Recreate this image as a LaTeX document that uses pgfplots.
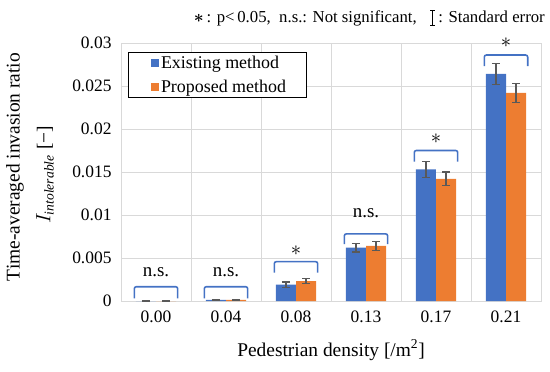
\documentclass[border=0pt]{standalone}
\usepackage{pgfplots}
\pgfplotsset{compat=1.18}
\usepackage{amsmath}
\usepackage{fontspec}
\setmainfont{Liberation Serif}
\definecolor{cblue}{HTML}{4472C4}
\definecolor{corange}{HTML}{ED7D31}
\definecolor{cgrid}{HTML}{D9D9D9}
\definecolor{cerr}{HTML}{595959}
\begin{document}
\begin{tikzpicture}
\useasboundingbox (0,0) rectangle (550bp,372bp);
\begin{axis}[
  at={(121bp,71bp)}, anchor=south west,
  scale only axis, width=420bp, height=258bp,
  xmin=-0.5, xmax=5.5, ymin=0, ymax=0.03,
  bar width=20bp,
  xtick={0,1,2,3,4,5},
  xticklabels={0.00,0.04,0.08,0.13,0.17,0.21},
  minor xtick={-0.5,0.5,1.5,2.5,3.5,4.5,5.5},
  ytick={0,0.005,0.01,0.015,0.02,0.025,0.03},
  yticklabels={0,0.005,0.01,0.015,0.02,0.025,0.03},
  scaled y ticks=false,
  xminorgrids=true, ymajorgrids=true, xmajorgrids=false,
  grid style={cgrid, line width=0.8pt},
  minor grid style={cgrid, line width=0.8pt},
  axis line style={cgrid, line width=0.8pt},
  major tick length=0pt, minor tick length=0pt,
  tick style={draw=none},
  ticklabel style={font=\fontsize{17.5}{20}\selectfont},
  xticklabel style={yshift=-6bp},
  yticklabel style={xshift=-6bp},
  legend style={at={(0.0167,0.965)}, anchor=north west,
    draw=black, line width=0.8pt, font=\fontsize{18}{20}\selectfont,
    row sep=6bp, inner xsep=18bp, inner ysep=1.5bp, cells={anchor=west},
    nodes={inner ysep=2bp}},
  legend image code/.code={\path (-5bp,0);\fill[#1] (0bp,-3.8bp) rectangle (7.6bp,3.8bp);},
  clip=false,
]
\addplot[ybar, bar shift=0pt, fill=cblue, draw=none,
  error bars/.cd, y dir=both, y explicit,
  error bar style={cerr, line width=1.3pt},
  error mark options={cerr, rotate=90, mark size=4bp, line width=1.3pt}] coordinates {
  (-0.1429,0) +- (0,0)
  (0.8571,0.00012) +- (0,0.00004)
  (1.8571,0.0019) +- (0,0.0003)
  (2.8571,0.0062) +- (0,0.0005)
  (3.8571,0.0153) +- (0,0.0009)
  (4.8571,0.0264) +- (0,0.0012)
};
\addlegendentry{Existing method}
\addplot[ybar, bar shift=0pt, fill=corange, draw=none,
  error bars/.cd, y dir=both, y explicit,
  error bar style={cerr, line width=1.3pt},
  error mark options={cerr, rotate=90, mark size=4bp, line width=1.3pt}] coordinates {
  (0.1429,0) +- (0,0)
  (1.1429,0.00013) +- (0,0.00005)
  (2.1429,0.0023) +- (0,0.0003)
  (3.1429,0.0064) +- (0,0.0005)
  (4.1429,0.0142) +- (0,0.0008)
  (5.1429,0.0242) +- (0,0.0011)
};
\addlegendentry{Proposed method}
% brackets
\addplot[cblue, sharp plot, no markers, forget plot, line width=1.6pt, rounded corners=2bp] coordinates {(-0.31,0.0003) (-0.31,0.00166) (0.31,0.00166) (0.31,0.0003)};
\addplot[cblue, sharp plot, no markers, forget plot, line width=1.6pt, rounded corners=2bp] coordinates {(0.69,0.0003) (0.69,0.00166) (1.31,0.00166) (1.31,0.0003)};
\addplot[cblue, sharp plot, no markers, forget plot, line width=1.6pt, rounded corners=2bp] coordinates {(1.69,0.0033) (1.69,0.00457) (2.31,0.00457) (2.31,0.0033)};
\addplot[cblue, sharp plot, no markers, forget plot, line width=1.6pt, rounded corners=2bp] coordinates {(2.69,0.0066) (2.69,0.0078) (3.31,0.0078) (3.31,0.0066)};
\addplot[cblue, sharp plot, no markers, forget plot, line width=1.6pt, rounded corners=2bp] coordinates {(3.69,0.0162) (3.69,0.0175) (4.31,0.0175) (4.31,0.0162)};
\addplot[cblue, sharp plot, no markers, forget plot, line width=1.6pt, rounded corners=2bp] coordinates {(4.69,0.0273) (4.69,0.0286) (5.31,0.0286) (5.31,0.0273)};
\node[font=\fontsize{19}{20}\selectfont] at (axis cs:0,0.0034) {n.s.};
\node[font=\fontsize{19}{20}\selectfont] at (axis cs:1,0.0034) {n.s.};
\node[font=\fontsize{19}{20}\selectfont] at (axis cs:3,0.0102) {n.s.};
\node[font=\fontsize{22}{22}\selectfont] at (axis cs:2,0.0059) {$\ast$};
\node[font=\fontsize{22}{22}\selectfont] at (axis cs:4,0.0189) {$\ast$};
\node[font=\fontsize{22}{22}\selectfont] at (axis cs:5,0.0300) {$\ast$};
% axis labels
\node[rotate=90, font=\fontsize{19.5}{22}\selectfont] at ([xshift=-106bp,yshift=5bp]rel axis cs:0,0.5) {Time-averaged invasion ratio};
\node[rotate=90, font=\fontsize{19.5}{22}\selectfont] at ([xshift=-76bp,yshift=-3bp]rel axis cs:0,0.5) {$I_{\mathit{intolerable}}$ [−]};
\node[font=\fontsize{19.5}{22}\selectfont] at ([yshift=-49bp]rel axis cs:0.5,0) {Pedestrian density [/m\textsuperscript{2}]};
\end{axis}
% top annotation
\node[anchor=base east, inner xsep=0pt, font=\fontsize{16.8}{18}\selectfont] (t2) at (545bp,349bp) {: Standard error};
\draw[black, line width=1.1pt] (432.5bp,347bp) -- (432.5bp,362bp);
\draw[black, line width=0.8pt] (430bp,347bp) -- (435bp,347bp) (430bp,362bp) -- (435bp,362bp);
\node[anchor=base east, inner xsep=0pt, font=\fontsize{16.8}{18}\selectfont] at (417bp,349bp) {$\boldsymbol{\ast}$\,: p<\,0.05,\ \ n.s.: Not significant,};
\end{tikzpicture}
\end{document}
